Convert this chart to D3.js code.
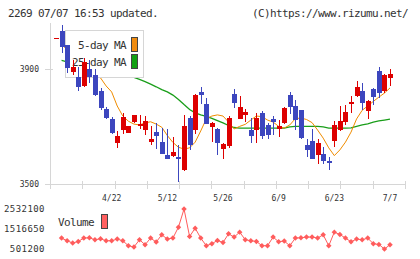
<!DOCTYPE html>
<html>
<head>
<meta charset="utf-8">
<script src="https://d3js.org/d3.v7.min.js"></script>
<style>
  body { margin: 0; background: #fff; }
  text { font-family: "DejaVu Sans Mono", monospace; fill: #333; }
  .big { font-size: 11px; letter-spacing: -0.62px; }
  .small { font-size: 8px; }
  .vsmall { font-size: 9px; letter-spacing: 0.45px; }
</style>
</head>
<body>
<div id="chart"></div>
<script>
  // daily candles (index 0 .. 60)
  var open = [4010, 4034, 3985, 3892, 3874, 3843, 3901, 3880, 3824, 3760,
              3727, 3644, 3687, 3679, 3716, 3702, 3687, 3646, 3681, 3646,
              3600, 3598, 3594, 3548, 3730, 3687, 3821, 3780, 3699, 3693,
              3623, 3633, 3815, 3728, 3742, 3687, 3687, 3749, 3707, 3726,
              3691, 3714, 3811, 3772, 3757, 3635, 3649, 3600, 3605, 3579,
              3649, 3687, 3716, 3780, 3807, 3823, 3754, 3830, 3893, 3823,
              3870];
  var close = [4010, 3979, 3904, 3909, 3839, 3924, 3872, 3810, 3765, 3730,
               3679, 3667, 3734, 3702, 3740, 3710, 3719, 3656, 3667, 3606,
               3588, 3612, 3588, 3702, 3635, 3811, 3811, 3710, 3713, 3644,
               3640, 3730, 3784, 3769, 3751, 3667, 3730, 3667, 3672, 3716,
               3702, 3765, 3769, 3722, 3660, 3618, 3588, 3643, 3579, 3574,
               3705, 3719, 3751, 3786, 3838, 3784, 3788, 3803, 3818, 3881,
               3885];
  var high = [4010, 4055, 3985, 3932, 3909, 3940, 3932, 3900, 3834, 3769,
              3732, 3684, 3749, 3704, 3742, 3740, 3737, 3702, 3714, 3695,
              3693, 3664, 3637, 3742, 3737, 3813, 3838, 3800, 3715, 3695,
              3642, 3737, 3832, 3807, 3760, 3730, 3749, 3754, 3714, 3737,
              3722, 3767, 3821, 3792, 3759, 3656, 3691, 3656, 3629, 3594,
              3719, 3772, 3777, 3807, 3858, 3853, 3792, 3835, 3908, 3883,
              3902];
  var low = [4010, 3958, 3888, 3880, 3825, 3840, 3851, 3808, 3758, 3728,
             3676, 3626, 3675, 3677, 3714, 3691, 3672, 3637, 3623, 3604,
             3586, 3594, 3507, 3546, 3618, 3675, 3780, 3708, 3646, 3602,
             3588, 3626, 3765, 3726, 3716, 3644, 3644, 3656, 3656, 3670,
             3664, 3708, 3745, 3687, 3658, 3594, 3586, 3571, 3571, 3548,
             3629, 3684, 3705, 3749, 3805, 3757, 3728, 3774, 3800, 3816,
             3842];

  // moving averages
  var ma5 = [null, 3988, 3967, 3946, 3932, 3914, 3897, 3883, 3870, 3842,
             3821, 3772, 3737, 3719, 3709, 3706, 3713, 3717, 3709, 3698,
             3669, 3645, 3628, 3622, 3626, 3646, 3685, 3727, 3737, 3741,
             3737, 3716, 3692, 3701, 3708, 3723, 3737, 3735, 3723, 3716,
             3701, 3695, 3706, 3728, 3730, 3725, 3714, 3688, 3660, 3626,
             3599, 3619, 3646, 3681, 3727, 3757, 3772, 3788, 3803, 3817,
             3835];
  var ma25 = [null, 3931, 3926, 3921, 3916, 3910, 3905, 3900, 3895, 3890,
              3886, 3883, 3879, 3876, 3872, 3865, 3857, 3848, 3839, 3829,
              3821, 3810, 3795, 3777, 3760, 3748, 3741, 3736, 3729, 3721,
              3713, 3704, 3697, 3695, 3695, 3695, 3695, 3695, 3695, 3695,
              3695, 3695, 3699, 3701, 3701, 3701, 3701, 3701, 3699, 3695,
              3695, 3695, 3695, 3696, 3701, 3706, 3710, 3716, 3720, 3723,
              3726];

  // volume
  var volume = [null, 1055500, 919500, 803600, 884200, 1055500, 1070700, 969900, 1020300, 919500,
                919500, 1005100, 919500, 667500, 602000, 969900, 718000, 1055500, 854000, 1221900,
                1005100, 1055500, 1609900, 2532100, 1136200, 1559500, 1055500, 667500, 768300, 934600,
                833800, 1272200, 1105900, 1357900, 969900, 919500, 884200, 667500, 667500, 1105900,
                869100, 904400, 667500, 1055500, 1070700, 1105900, 1105900, 1055500, 1221900, 667500,
                1357900, 1237000, 1055500, 869100, 1005100, 969900, 1055500, 768300, 733000, 501200,
                718000];

  // tick labels
  var dateIdx = [10, 20, 30, 40, 50, 60];
  var dateText = ["4/22", "5/12", "5/26", "6/9", "6/23", "7/7"];
  var priceTicks = [3900, 3500];
  var volTicks = [2532100, 1516650, 501200];

  var svg = d3.select("#chart")
    .append("svg")
      .attr("width", 420)
      .attr("height", 259);

  var x = d3.scaleLinear().domain([0, 60]).range([56, 390]);
  var y = d3.scaleLinear().domain([3500, 3900]).range([184, 69.3]);
  var yVol = d3.scaleLinear().domain([501200, 2532100]).range([249, 209]);
  var gridX = d3.scaleLinear().domain([0, 11]).range([50, 405]);

  var px = function(v) { return Math.round(v) + 0.5; };

  // header
  svg.append("text").attr("class", "big")
    .attr("x", 8).attr("y", 17)
    .text("2269 07/07 16:53 updated.");
  svg.append("text").attr("class", "big")
    .attr("x", 408).attr("y", 17)
    .attr("text-anchor", "end")
    .text("(C)https://www.rizumu.net/");

  // axes
  var axis = svg.append("g")
    .attr("stroke", "#d6d6d6")
    .attr("shape-rendering", "crispEdges");
  axis.append("line")
    .attr("x1", 50.5).attr("x2", 50.5)
    .attr("y1", 23).attr("y2", 189);
  axis.append("line")
    .attr("x1", 45).attr("x2", 405)
    .attr("y1", px(y(3500))).attr("y2", px(y(3500)));
  axis.selectAll(".xt")
    .data(d3.range(12))
    .enter().append("line")
      .attr("x1", function(d) { return px(gridX(d)); })
      .attr("x2", function(d) { return px(gridX(d)); })
      .attr("y1", 181).attr("y2", 189);
  axis.selectAll(".yt")
    .data(priceTicks)
    .enter().append("line")
      .attr("x1", 45).attr("x2", 53)
      .attr("y1", function(d) { return px(y(d)); })
      .attr("y2", function(d) { return px(y(d)); });

  svg.selectAll(".ylab")
    .data(priceTicks)
    .enter().append("text")
      .attr("class", "small")
      .attr("x", 39)
      .attr("y", function(d) { return y(d); })
      .attr("dy", "0.35em")
      .attr("text-anchor", "end")
      .text(function(d) { return d; });

  svg.selectAll(".xlab")
    .data(dateIdx)
    .enter().append("text")
      .attr("class", "small")
      .attr("x", function(d) { return x(d); })
      .attr("y", 201)
      .attr("text-anchor", "middle")
      .text(function(d, i) { return dateText[i]; });

  // moving averages
  var maLine = d3.line()
    .defined(function(d) { return d != null; })
    .x(function(d, i) { return x(i); })
    .y(function(d) { return y(d); });

  svg.append("path")
    .attr("d", maLine(ma25))
    .attr("fill", "none")
    .attr("stroke", "#1a9e1a")
    .attr("stroke-width", 1.3);
  svg.append("path")
    .attr("d", maLine(ma5))
    .attr("fill", "none")
    .attr("stroke", "#f08c00")
    .attr("stroke-width", 1);

  // legend
  var lg = svg.append("g");
  lg.append("rect")
    .attr("x", 65.5).attr("y", 30.5)
    .attr("width", 78).attr("height", 47)
    .attr("fill", "#fff")
    .attr("stroke", "#d6d6d6");
  lg.append("text").attr("class", "big")
    .attr("x", 126).attr("y", 45).attr("dy", "0.35em")
    .attr("text-anchor", "end").text("5-day MA");
  lg.append("text").attr("class", "big")
    .attr("x", 126).attr("y", 62).attr("dy", "0.35em")
    .attr("text-anchor", "end").text("25-day MA");
  lg.append("rect")
    .attr("x", 131.5).attr("y", 37.5).attr("width", 6).attr("height", 14)
    .attr("fill", "#f08c10").attr("stroke", "#444");
  lg.append("rect")
    .attr("x", 131.5).attr("y", 54.5).attr("width", 6).attr("height", 14)
    .attr("fill", "#12a012").attr("stroke", "#444");

  // candles
  var cg = svg.append("g").attr("shape-rendering", "crispEdges");
  var candle = cg.selectAll("g")
    .data(d3.range(open.length))
    .enter().append("g")
      .attr("fill", function(i) { return close[i] >= open[i] ? "#dd0000" : "#3c46be"; })
      .attr("stroke", function(i) { return close[i] >= open[i] ? "#dd0000" : "#3c46be"; });
  candle.append("line")
    .attr("x1", function(i) { return px(x(i)); })
    .attr("x2", function(i) { return px(x(i)); })
    .attr("y1", function(i) { return y(high[i]); })
    .attr("y2", function(i) { return y(low[i]); });
  candle.append("rect")
    .attr("stroke", "none")
    .attr("x", function(i) { return Math.round(x(i)) - 2; })
    .attr("width", 5)
    .attr("y", function(i) { return y(Math.max(open[i], close[i])); })
    .attr("height", function(i) { return Math.max(1, Math.abs(y(open[i]) - y(close[i]))); });

  // volume
  var volLine = d3.line()
    .defined(function(d) { return d != null; })
    .x(function(d, i) { return x(i); })
    .y(function(d) { return yVol(d); });

  svg.append("path")
    .attr("d", volLine(volume))
    .attr("fill", "none")
    .attr("stroke", "#ff5c5c")
    .attr("stroke-width", 1);

  svg.selectAll(".vdot")
    .data(d3.range(volume.length).filter(function(i) { return volume[i] != null; }))
    .enter().append("path")
      .attr("d", d3.symbol(d3.symbolSquare, 15))
      .attr("transform", function(i) { return "translate(" + x(i) + "," + yVol(volume[i]) + ") rotate(45)"; })
      .attr("fill", "#ff5c5c");

  svg.selectAll(".vlab")
    .data(volTicks)
    .enter().append("text")
      .attr("class", "vsmall")
      .attr("x", 45)
      .attr("y", function(d) { return yVol(d); })
      .attr("dy", "0.35em")
      .attr("text-anchor", "end")
      .text(function(d) { return d; });

  svg.append("text").attr("class", "big")
    .attr("x", 58).attr("y", 222).attr("dy", "0.35em")
    .text("Volume");
  svg.append("rect")
    .attr("x", 101.5).attr("y", 214.5).attr("width", 6).attr("height", 14)
    .attr("fill", "#ff6060").attr("stroke", "#444");
</script>
</body>
</html>
